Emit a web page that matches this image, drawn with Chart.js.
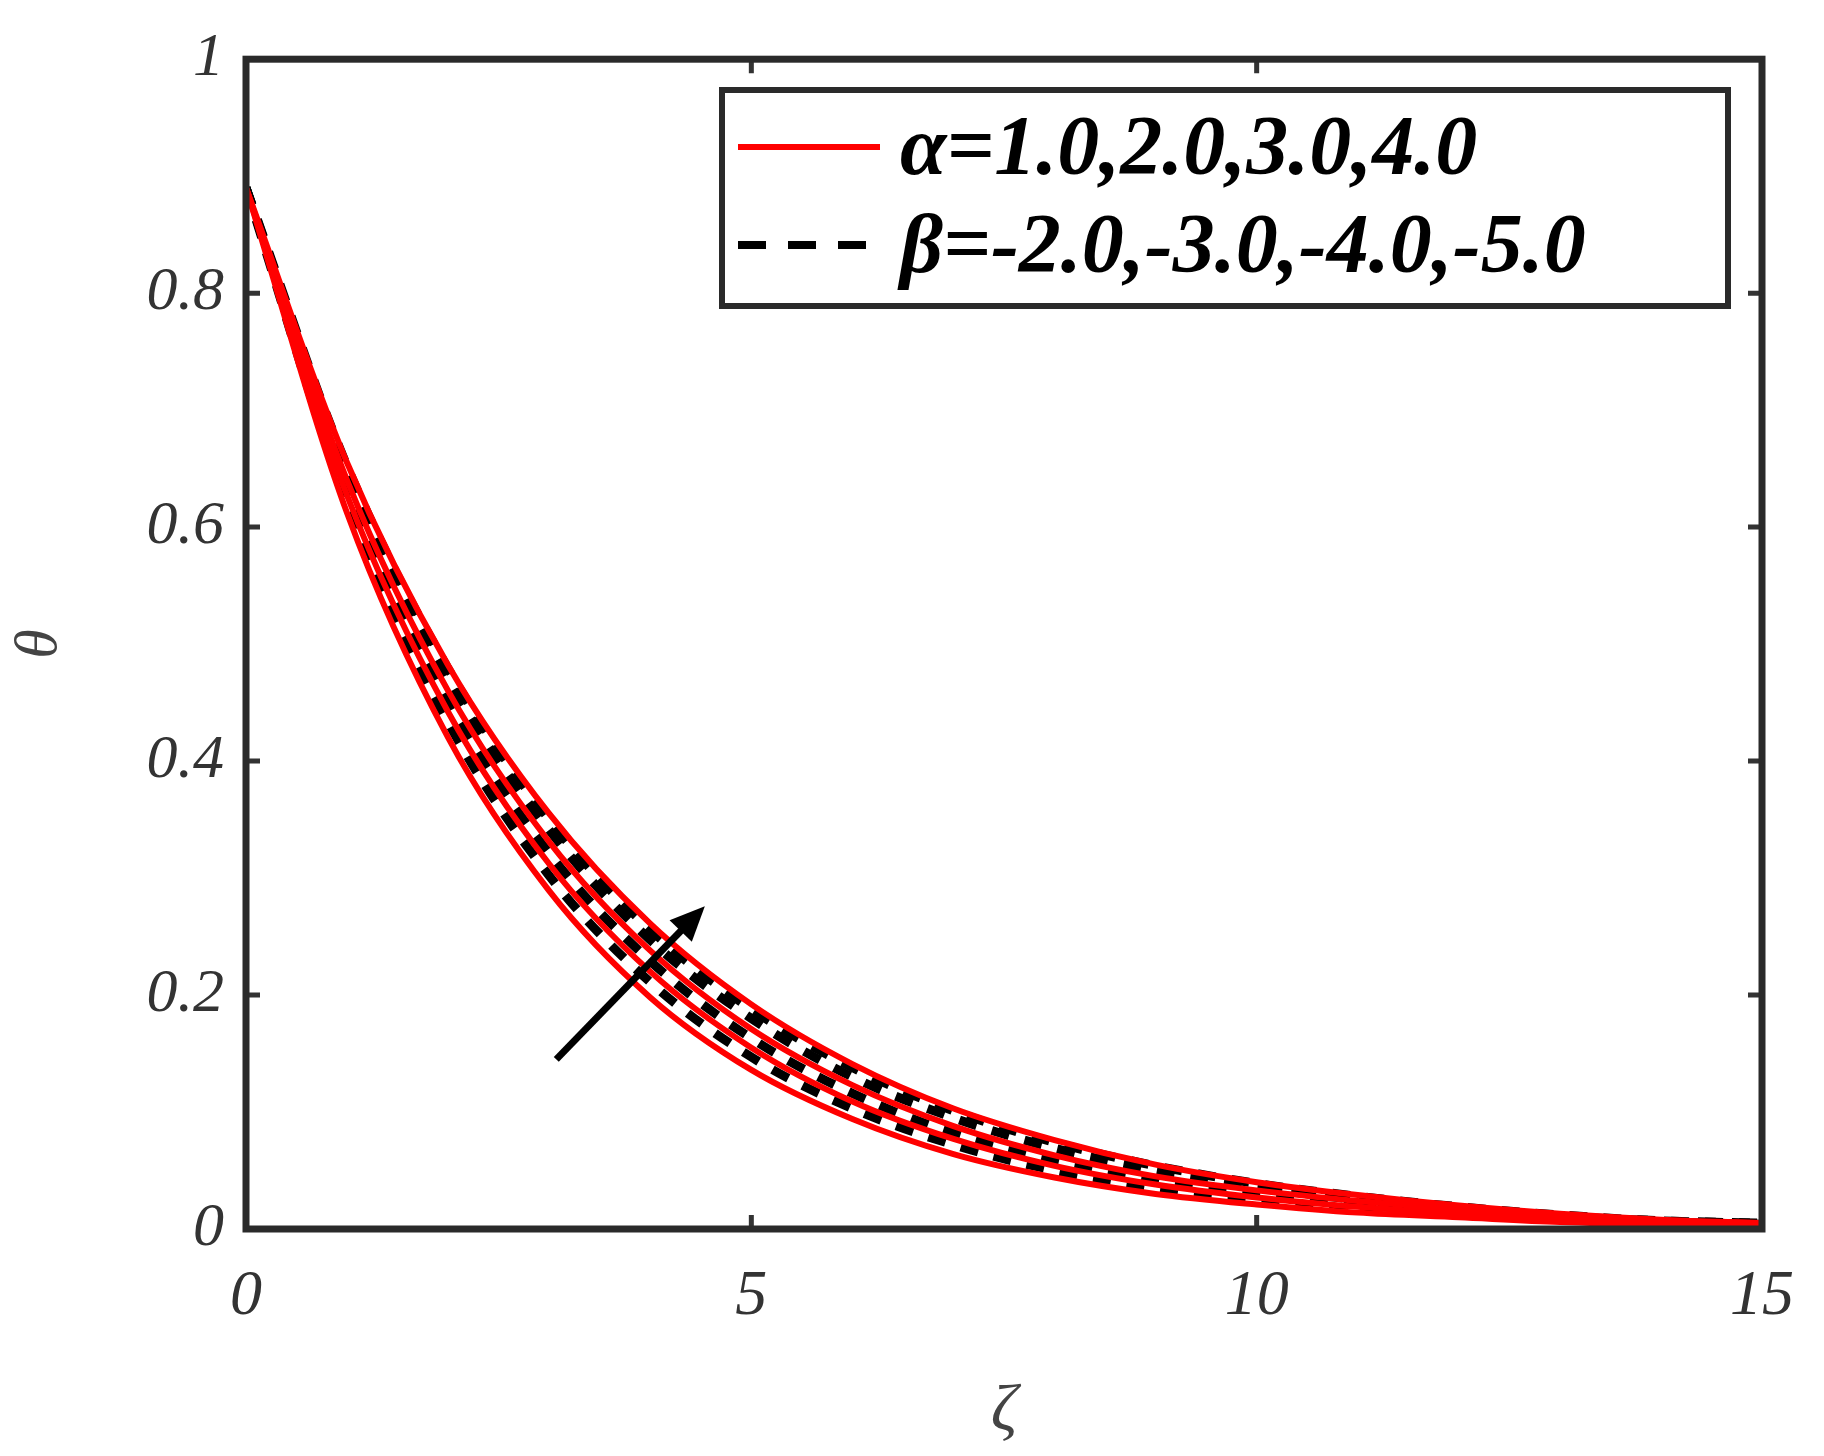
<!DOCTYPE html>
<html><head><meta charset="utf-8">
<script src="https://cdn.jsdelivr.net/npm/chart.js@4"></script>
<style>body{margin:0;background:#fff}</style>
</head><body>
<canvas id="c" width="1824" height="1456"></canvas>
<script>
var zeta = [0,1,2,3,4,5,6,7,8,9,10,11,12,13,14,15];
var alfa1 = [0.89,0.612,0.420,0.289,0.198,0.136,0.094,0.064,0.044,0.030,0.021,0.014,0.010,0.006,0.004,0.003];
var alfa2 = [0.89,0.627,0.442,0.312,0.220,0.155,0.109,0.077,0.054,0.038,0.027,0.019,0.013,0.009,0.006,0.004];
var alfa3 = [0.89,0.640,0.460,0.331,0.238,0.171,0.123,0.088,0.063,0.045,0.033,0.024,0.017,0.011,0.007,0.005];
var alfa4 = [0.89,0.655,0.482,0.355,0.261,0.192,0.141,0.103,0.076,0.055,0.040,0.029,0.020,0.013,0.008,0.005];
var beta1 = [0.89,0.621,0.433,0.302,0.211,0.147,0.103,0.072,0.050,0.035,0.024,0.017,0.012,0.008,0.005,0.003];
var beta2 = [0.89,0.633,0.451,0.321,0.229,0.163,0.116,0.082,0.059,0.042,0.030,0.021,0.014,0.009,0.006,0.004];
var beta3 = [0.89,0.646,0.469,0.341,0.247,0.180,0.130,0.095,0.069,0.050,0.036,0.025,0.017,0.011,0.007,0.005];
var beta4 = [0.89,0.652,0.479,0.350,0.256,0.188,0.138,0.101,0.074,0.054,0.039,0.028,0.019,0.012,0.007,0.005];
var xTicks = [0,5,10,15];
var yTicks = [0,0.2,0.4,0.6,0.8,1];
var arrowFrom = [3.07,0.145], arrowTo = [4.54,0.276];
var legendText = ['α=1.0,2.0,3.0,4.0','β=-2.0,-3.0,-4.0,-5.0'];

function pts(ys){ return ys.map(function(v,i){ return {x:zeta[i], y:v}; }); }
var sets = [];
[alfa1,alfa2,alfa3,alfa4].forEach(function(a){
  sets.push({data:pts(a), borderColor:'#ff0000', borderWidth:6, pointRadius:0, cubicInterpolationMode:'monotone'});
});
[beta1,beta2,beta3,beta4].forEach(function(b){
  sets.push({data:pts(b), borderColor:'#000', borderWidth:9, borderDash:[18,16], pointRadius:0, cubicInterpolationMode:'monotone'});
});

var deco = {
  id:'deco',
  afterDraw: function(ch){
    var c = ch.ctx, a = ch.chartArea, xs = ch.scales.x, ys = ch.scales.y;
    c.save();
    // ticks inward on all sides
    c.strokeStyle='#333'; c.lineWidth=5;
    xTicks.forEach(function(t){ var p=xs.getPixelForValue(t);
      c.beginPath(); c.moveTo(p,a.bottom); c.lineTo(p,a.bottom-14); c.moveTo(p,a.top); c.lineTo(p,a.top+14); c.stroke(); });
    yTicks.forEach(function(t){ var p=ys.getPixelForValue(t);
      c.beginPath(); c.moveTo(a.left,p); c.lineTo(a.left+14,p); c.moveTo(a.right,p); c.lineTo(a.right-14,p); c.stroke(); });
    c.lineWidth=7; c.strokeStyle='#2a2a2a';
    c.strokeRect(a.left,a.top,a.right-a.left,a.bottom-a.top);
    // arrow
    var x1=xs.getPixelForValue(arrowFrom[0]), y1=ys.getPixelForValue(arrowFrom[1]);
    var x2=xs.getPixelForValue(arrowTo[0]), y2=ys.getPixelForValue(arrowTo[1]);
    var ang=Math.atan2(y2-y1,x2-x1);
    c.strokeStyle='#000'; c.fillStyle='#000'; c.lineWidth=7;
    c.beginPath(); c.moveTo(x1,y1); c.lineTo(x2-20*Math.cos(ang),y2-20*Math.sin(ang)); c.stroke();
    c.beginPath(); c.moveTo(x2,y2);
    c.lineTo(x2-38*Math.cos(ang-0.42),y2-38*Math.sin(ang-0.42));
    c.lineTo(x2-38*Math.cos(ang+0.42),y2-38*Math.sin(ang+0.42)); c.closePath(); c.fill();
    // legend
    var lx=722, ly=90, lw=1006, lh=216;
    c.fillStyle='#fff'; c.fillRect(lx,ly,lw,lh);
    c.lineWidth=6; c.strokeStyle='#2a2a2a'; c.strokeRect(lx,ly,lw,lh);
    c.lineWidth=6; c.strokeStyle='#ff0000'; c.setLineDash([]);
    c.beginPath(); c.moveTo(lx+16,ly+57); c.lineTo(lx+158,ly+57); c.stroke();
    c.strokeStyle='#000'; c.lineWidth=8; c.setLineDash([28,22]);
    c.beginPath(); c.moveTo(lx+16,ly+155); c.lineTo(lx+158,ly+155); c.stroke();
    c.setLineDash([]);
    c.fillStyle='#000'; c.font='italic bold 84px "Liberation Serif"'; c.textBaseline='middle';
    c.fillText(legendText[0], lx+178, ly+62);
    c.fillText(legendText[1], lx+178, ly+160);
    c.restore();
  }
};

new Chart(document.getElementById('c'), {
  type:'line',
  data:{datasets:sets},
  plugins:[deco],
  options:{
    responsive:false, devicePixelRatio:1, animation:false,
    layout:{padding:{top:56,right:52,left:0,bottom:0}},
    plugins:{legend:{display:false}, tooltip:{enabled:false}},
    scales:{
      x:{type:'linear', min:0, max:15,
        afterBuildTicks:function(s){ s.ticks = xTicks.map(function(v){return {value:v};}); },
        afterFit:function(s){ s.height=227; },
        grid:{display:false, drawTicks:false}, border:{display:false},
        ticks:{padding:30, color:'#333', font:{family:'Liberation Serif', style:'italic', size:64}},
        title:{display:true, text:'ζ', color:'#444', padding:{top:10}, font:{family:'Liberation Serif', style:'italic', size:66}}},
      y:{type:'linear', min:0, max:1,
        afterBuildTicks:function(s){ s.ticks = yTicks.map(function(v){return {value:v};}); },
        afterFit:function(s){ s.width=246; },
        grid:{display:false, drawTicks:false}, border:{display:false},
        ticks:{padding:22, color:'#333', callback:function(v){return String(v);}, font:{family:'Liberation Serif', style:'italic', size:62}},
        title:{display:true, text:'θ', color:'#444', padding:{bottom:20}, font:{family:'Liberation Serif', style:'italic', size:60}}}
    }
  }
});
</script>
</body></html>
